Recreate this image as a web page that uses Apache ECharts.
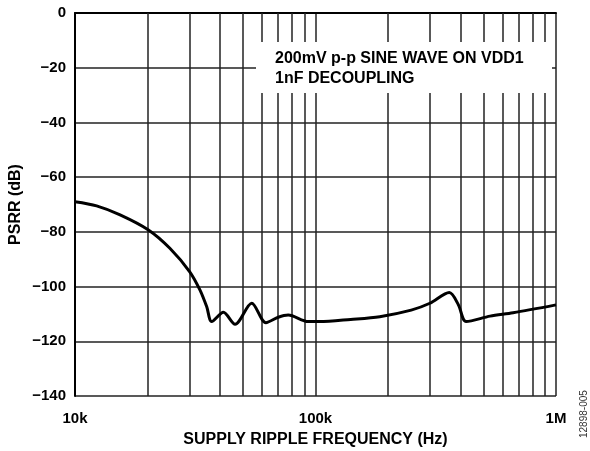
<!DOCTYPE html>
<html>
<head>
<meta charset="utf-8">
<script src="https://cdn.jsdelivr.net/npm/echarts@6/dist/echarts.min.js"></script>
<style>html,body{margin:0;padding:0;background:#fff;}#c{width:590px;height:451px;}</style>
</head>
<body>
<div id="c"></div>
<script>
// Data
var freqHz = [10000, 12300, 15400, 20200, 24800, 30000, 33100, 35300, 37000, 41400, 46300, 54300, 62200, 70000, 77000, 93300, 104000, 140000, 185000, 250000, 299000, 360000, 393000, 423000, 532000, 663000, 1000000];
var psrrDb = [-69.0, -70.5, -73.8, -79.3, -86.0, -94.6, -101.3, -107.4, -112.8, -109.4, -113.8, -106.1, -113.2, -111.2, -110.4, -112.8, -112.8, -112.0, -111.0, -108.6, -106.1, -102.2, -106.7, -112.8, -110.8, -109.6, -106.7];
var minorGridFreqs = [20000, 30000, 40000, 50000, 60000, 70000, 80000, 90000, 200000, 300000, 400000, 500000, 600000, 700000, 800000, 900000];
var xTickValues = [10000, 100000, 1000000];
var xTickLabels = ['10k', '100k', '1M'];
var yMin = -140, yMax = 0, yStep = 20;
var annotationLines = ['200mV p-p SINE WAVE ON VDD1', '1nF DECOUPLING'];

var chart = echarts.init(document.getElementById('c'), null, {renderer: 'canvas'});
var font = 'Liberation Sans, Arial, Helvetica, sans-serif';
var option = {
  animation: false,
  backgroundColor: '#fff',
  grid: {left: 75, right: 34, top: 13, bottom: 55, containLabel: false, outerBoundsMode: 'none'},
  xAxis: {
    type: 'log', logBase: 10, min: 10000, max: 1000000,
    name: 'SUPPLY RIPPLE FREQUENCY (Hz)', nameLocation: 'middle', nameGap: 36, nameMoveOverlap: false,
    nameTextStyle: {fontFamily: font, fontWeight: 'bold', fontSize: 16, color: '#000'},
    axisLine: {show: true, lineStyle: {color: '#000', width: 2}},
    axisTick: {show: false},
    axisLabel: {
      margin: 15, fontFamily: font, fontWeight: 'bold', fontSize: 15, color: '#000',
      formatter: function (v) { var i = xTickValues.indexOf(Math.round(v)); return i >= 0 ? xTickLabels[i] : ''; }
    },
    splitLine: {show: true, lineStyle: {color: '#222', width: 1.5}},
    minorTick: {show: false}, minorSplitLine: {show: false}
  },
  yAxis: {
    type: 'value', min: yMin, max: yMax, interval: yStep,
    name: 'PSRR (dB)', nameLocation: 'middle', nameGap: 51, nameRotate: 90, nameMoveOverlap: false,
    nameTextStyle: {fontFamily: font, fontWeight: 'bold', fontSize: 16, color: '#000'},
    axisLine: {show: true, lineStyle: {color: '#000', width: 2}},
    axisTick: {show: false},
    axisLabel: {
      margin: 9, fontFamily: font, fontWeight: 'bold', fontSize: 15, color: '#000',
      formatter: function (v) { return String(v).replace('-', '\u2212'); }
    },
    splitLine: {show: true, lineStyle: {color: '#222', width: 1.5}}
  },
  series: [{
    type: 'line',
    data: freqHz.map(function (f, i) { return [f, psrrDb[i]]; }),
    showSymbol: false, symbol: 'none',
    smooth: 0.3,
    lineStyle: {color: '#000', width: 3},
    z: 5,
    markLine: {
      silent: true, symbol: ['none', 'none'], label: {show: false},
      lineStyle: {color: '#222', width: 1.5, type: 'solid'},
      emphasis: {disabled: true},
      data: minorGridFreqs.map(function (f) { return {xAxis: f}; }),
      z: 1
    }
  }],
  graphic: [
    {type: 'rect', left: 256, top: 42, shape: {width: 296, height: 51}, style: {fill: '#fff'}, z: 100},
    {type: 'text', left: 275, top: 49, z: 101,
      style: {text: annotationLines.join('\n'), fill: '#000', font: 'bold 16px ' + font, lineHeight: 19.5}},
    {type: 'text', x: 579, y: 438, rotation: Math.PI / 2, z: 101,
      style: {text: '12898-005', fill: '#333', font: '10px ' + font, align: 'left', verticalAlign: 'top'}}
  ]
};
chart.setOption(option);
</script>
</body>
</html>
